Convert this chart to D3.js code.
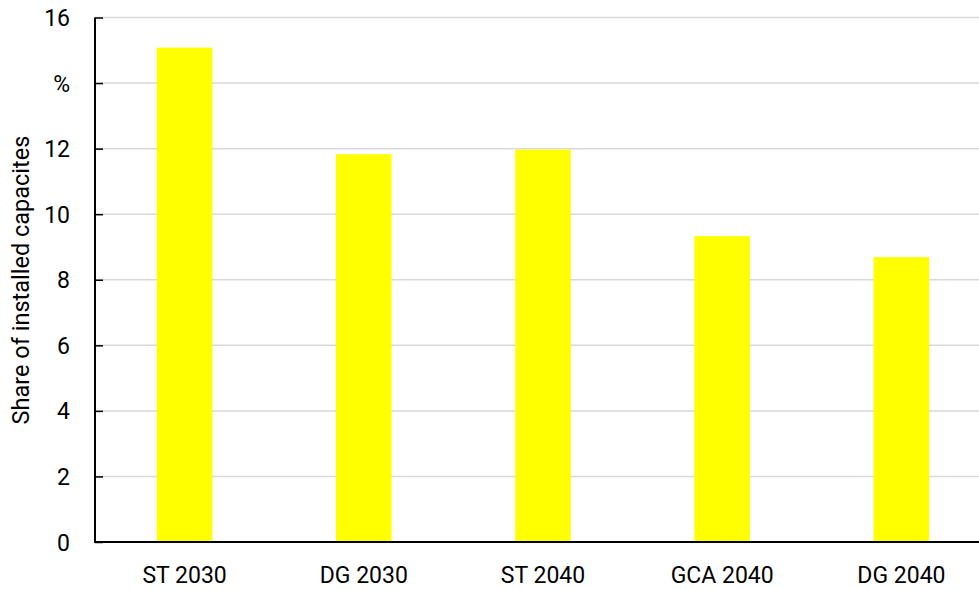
<!DOCTYPE html>
<html>
<head>
<meta charset="utf-8">
<script src="https://cdn.jsdelivr.net/npm/d3@7"></script>
<style>
  html, body { margin: 0; padding: 0; background: #fff; }
  svg { display: block; }
  svg text { font-family: Roboto, "Noto Sans", sans-serif !important; }
</style>
</head>
<body>
<svg id="chart" width="979" height="589"></svg>
<script>
const categories = ["ST 2030", "DG 2030", "ST 2040", "GCA 2040", "DG 2040"];
const values = [15.08, 11.83, 11.97, 9.33, 8.69];
const yTicks = [0, 2, 4, 6, 8, 10, 12, 14, 16];
const yTickLabels = ["0", "2", "4", "6", "8", "10", "12", "%", "16"];
const yTitle = "Share of installed capacites";

const svg = d3.select("#chart");
const mLeft = 95, mRight = 991, mTop = 17.5, mBottom = 542, plotRight = 979;

const x = d3.scaleBand().domain(categories).range([mLeft, mRight])
  .paddingInner(0.69).paddingOuter(0.345);
const y = d3.scaleLinear().domain([0, 16]).range([mBottom, mTop]);

// gridlines
svg.append("g").selectAll("line").data(yTicks).join("line")
  .attr("x1", mLeft).attr("x2", plotRight)
  .attr("y1", d => y(d)).attr("y2", d => y(d))
  .attr("stroke", "#d9d9d9").attr("stroke-width", 1.5);

// bars
svg.append("g").selectAll("rect").data(values).join("rect")
  .attr("x", (d, i) => x(categories[i]))
  .attr("width", x.bandwidth())
  .attr("y", d => y(d))
  .attr("height", d => y(0) - y(d))
  .attr("fill", "#ffff00");

// y axis
const yAxis = d3.axisRight(y).tickValues(yTicks).tickSize(8)
  .tickFormat((d, i) => yTickLabels[i]);
const gy = svg.append("g").attr("transform", `translate(${mLeft},0)`).call(yAxis);
gy.select(".domain").remove();
gy.selectAll(".tick line").attr("stroke", "#000").attr("stroke-width", 1.5);
gy.selectAll(".tick text")
  .attr("x", -25).attr("text-anchor", "end")
  .attr("fill", "#000").style("font-size", "23px").attr("dy", "0.35em");
svg.append("line").attr("x1", mLeft).attr("x2", mLeft)
  .attr("y1", mTop).attr("y2", mBottom + 1)
  .attr("stroke", "#000").attr("stroke-width", 2);

// x axis
const xAxis = d3.axisBottom(x).tickSize(0).tickPadding(0);
const gx = svg.append("g").attr("transform", `translate(0,${mBottom})`).call(xAxis);
gx.select(".domain").remove();
gx.selectAll(".tick text").attr("y", 41).attr("dy", 0)
  .attr("fill", "#000").style("font-size", "23px");
svg.append("line").attr("x1", mLeft - 1).attr("x2", plotRight)
  .attr("y1", mBottom).attr("y2", mBottom)
  .attr("stroke", "#000").attr("stroke-width", 2);

// y title
svg.append("text")
  .attr("transform", `translate(28.5,280) rotate(-90)`)
  .attr("text-anchor", "middle")
  .style("font-size", "23.5px").attr("fill", "#000")
  .text(yTitle);
</script>
</body>
</html>
